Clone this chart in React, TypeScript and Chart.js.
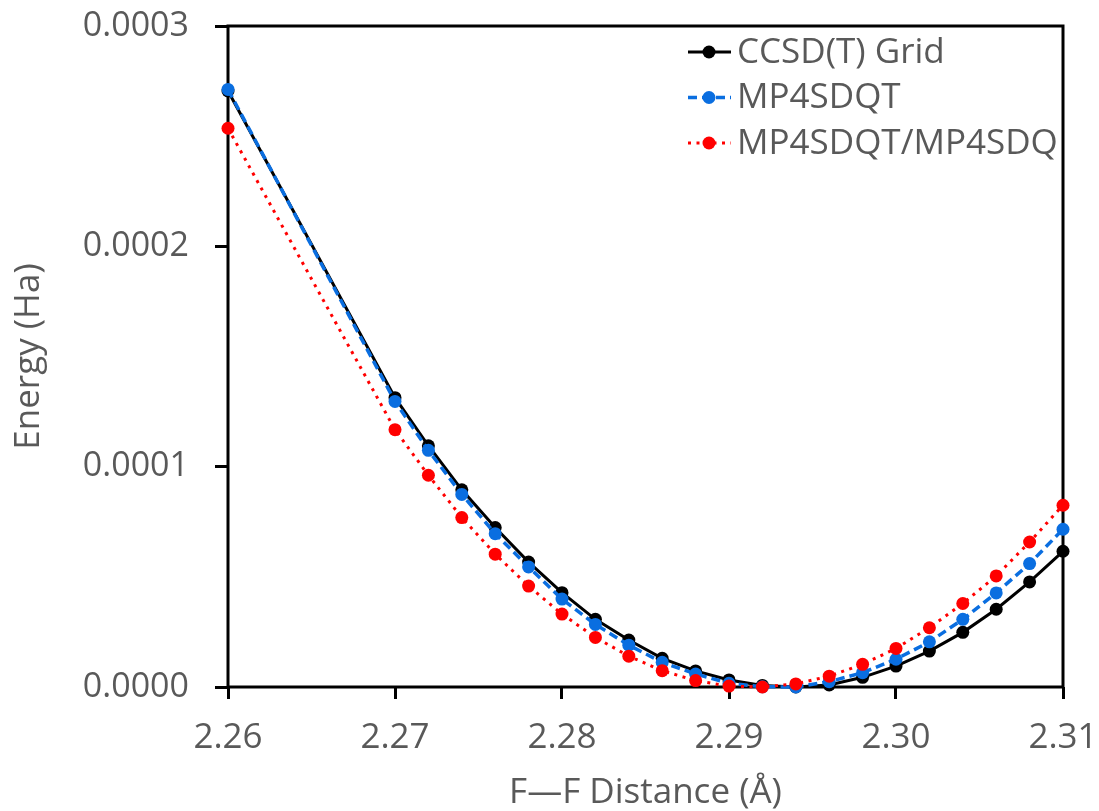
import React, { useEffect, useRef } from "react";
import { Chart, registerables } from "chart.js";

Chart.register(...registerables);

const distances = [
  2.26, 2.27, 2.272, 2.274, 2.276, 2.278, 2.28, 2.282, 2.284, 2.286, 2.288,
  2.29, 2.292, 2.294, 2.296, 2.298, 2.3, 2.302, 2.304, 2.306, 2.308, 2.31,
];

const ccsdtGrid = [
  0.0002705, 0.0001313, 0.0001095, 0.0000895, 0.0000724, 0.0000567,
  0.0000428, 0.0000307, 0.0000213, 0.000013, 0.0000073, 0.0000032,
  0.0000007, 0.0, 0.0000009, 0.0000044, 0.0000095, 0.0000163, 0.0000248,
  0.0000353, 0.0000477, 0.0000616,
];

const mp4sdqt = [
  0.0002712, 0.0001296, 0.0001074, 0.0000874, 0.0000696, 0.0000545,
  0.0000399, 0.0000284, 0.000019, 0.0000112, 0.0000059, 0.0000017,
  0.0000001, 0.0, 0.0000024, 0.0000065, 0.0000126, 0.0000205, 0.0000307,
  0.0000427, 0.000056, 0.0000716,
];

const mp4sdqtRatio = [
  0.0002536, 0.0001168, 0.0000961, 0.0000769, 0.0000603, 0.0000458,
  0.0000331, 0.0000225, 0.000014, 0.0000074, 0.0000029, 0.0000004, 0.0,
  0.0000014, 0.0000049, 0.0000103, 0.0000175, 0.0000269, 0.0000379,
  0.0000504, 0.0000658, 0.0000825,
];

const seriesNames = ["CCSD(T) Grid", "MP4SDQT", "MP4SDQT/MP4SDQ"];
const xTickValues = [2.26, 2.27, 2.28, 2.29, 2.3, 2.31];
const yTickValues = [0, 0.0001, 0.0002, 0.0003];

const GRAY = "#595959";
const FONT = "'Open Sans', 'Noto Sans', sans-serif";

const frameAndLegend = {
  id: "frameAndLegend",
  beforeDatasetsDraw(chart: any) {
    const { ctx, chartArea } = chart;
    ctx.save();
    ctx.strokeStyle = "#000";
    ctx.lineWidth = 3;
    ctx.strokeRect(
      chartArea.left,
      chartArea.top,
      chartArea.right - chartArea.left,
      chartArea.bottom - chartArea.top
    );
    ctx.restore();
  },
  afterDraw(chart: any) {
    const { ctx, chartArea } = chart;
    const x0 = chartArea.right - 375;
    const y0 = chartArea.top + 26;
    const rowH = 45.5;
    ctx.save();
    chart.data.datasets.forEach((ds: any, i: number) => {
      const y = y0 + i * rowH;
      ctx.beginPath();
      ctx.setLineDash(ds.borderDash || []);
      ctx.strokeStyle = ds.borderColor;
      ctx.lineWidth = ds.borderWidth;
      ctx.moveTo(x0, y);
      ctx.lineTo(x0 + 43, y);
      ctx.stroke();
      ctx.setLineDash([]);
      ctx.beginPath();
      ctx.fillStyle = ds.pointBackgroundColor;
      ctx.arc(x0 + 21, y, 6.5, 0, Math.PI * 2);
      ctx.fill();
      ctx.fillStyle = GRAY;
      ctx.font = `35px ${FONT}`;
      ctx.textBaseline = "middle";
      ctx.textAlign = "left";
      ctx.fillText(ds.label, x0 + 49, y + 1);
    });
    ctx.restore();
  },
};

export default function App() {
  const canvasRef = useRef<HTMLCanvasElement | null>(null);

  useEffect(() => {
    const canvas = canvasRef.current;
    if (!canvas) return;
    const mk = (vals: number[]) => distances.map((x, i) => ({ x, y: vals[i] }));
    const chart = new Chart(canvas, {
      type: "line",
      data: {
        datasets: [
          {
            label: seriesNames[0],
            data: mk(ccsdtGrid),
            borderColor: "#000000",
            backgroundColor: "#000000",
            pointBackgroundColor: "#000000",
            borderWidth: 3,
            pointRadius: 6.5,
            pointBorderWidth: 0,
            tension: 0,
            order: 3,
            clip: false,
          },
          {
            label: seriesNames[1],
            data: mk(mp4sdqt),
            borderColor: "#0A6EE0",
            backgroundColor: "#0A6EE0",
            pointBackgroundColor: "#0A6EE0",
            borderWidth: 3.5,
            borderDash: [9, 5],
            pointRadius: 6.5,
            pointBorderWidth: 0,
            tension: 0,
            order: 2,
            clip: false,
          },
          {
            label: seriesNames[2],
            data: mk(mp4sdqtRatio),
            borderColor: "#FF0000",
            backgroundColor: "#FF0000",
            pointBackgroundColor: "#FF0000",
            borderWidth: 3,
            borderDash: [3, 5.5],
            pointRadius: 6.5,
            pointBorderWidth: 0,
            tension: 0,
            order: 1,
            clip: false,
          },
        ] as any,
      },
      options: {
        animation: false,
        responsive: false,
        maintainAspectRatio: false,
        layout: { padding: { top: 26, right: 36, left: 0, bottom: 0 } },
        plugins: {
          legend: { display: false },
          tooltip: { enabled: false },
        },
        scales: {
          x: {
            type: "linear",
            min: 2.26,
            max: 2.31,
            afterBuildTicks: (scale: any) => {
              scale.ticks = xTickValues.map((v) => ({ value: v }));
            },
            afterFit: (scale: any) => {
              scale.height = 124;
              scale.paddingLeft = 0;
              scale.paddingRight = 0;
            },
            border: { display: false },
            grid: {
              drawOnChartArea: false,
              drawTicks: true,
              tickLength: 12,
              tickWidth: 3,
              tickColor: "#000",
            },
            ticks: {
              color: GRAY,
              font: { family: FONT, size: 35 },
              padding: 18,
              maxRotation: 0,
              autoSkip: false,
              callback: (v: any) => Number(v).toFixed(2),
            },
            title: {
              display: true,
              text: "F—F Distance (Å)",
              color: GRAY,
              font: { family: FONT, size: 35 },
              padding: { top: 0, bottom: -3 },
            },
          },
          y: {
            type: "linear",
            min: 0,
            max: 0.0003,
            afterBuildTicks: (scale: any) => {
              scale.ticks = yTickValues.map((v) => ({ value: v }));
            },
            afterFit: (scale: any) => {
              scale.width = 228;
              scale.paddingTop = 0;
              scale.paddingBottom = 0;
            },
            border: { display: false },
            grid: {
              drawOnChartArea: false,
              drawTicks: true,
              tickLength: 13,
              tickWidth: 3,
              tickColor: "#000",
            },
            ticks: {
              color: GRAY,
              font: { family: FONT, size: 34 },
              padding: 26,
              autoSkip: false,
              callback: (v: any) => Number(v).toFixed(4),
            },
            title: {
              display: true,
              text: "Energy (Ha)",
              color: GRAY,
              font: { family: FONT, size: 35 },
              padding: { top: 8, bottom: 0 },
            },
          },
        },
      },
      plugins: [frameAndLegend],
    });
    return () => chart.destroy();
  }, []);

  return (
    <div style={{ position: "absolute", left: 0, top: 0, width: 1099, height: 811, background: "#fff" }}>
      <canvas ref={canvasRef} width={1099} height={811} style={{ display: "block" }} />
    </div>
  );
}
